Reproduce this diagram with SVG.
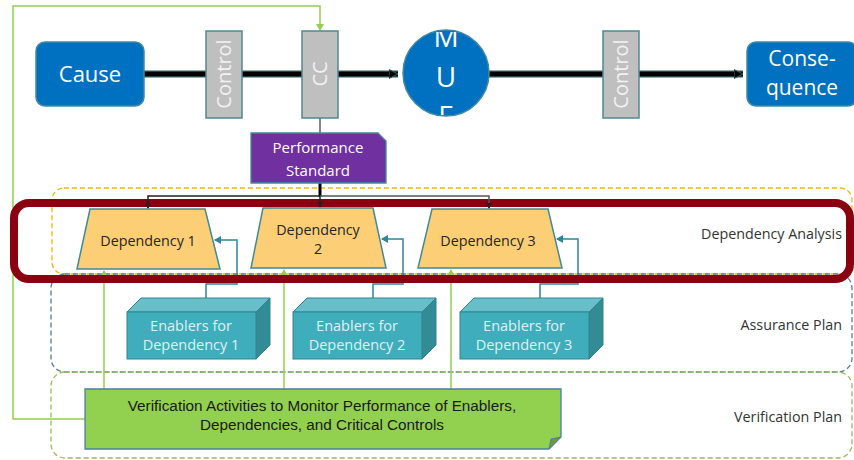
<svg xmlns="http://www.w3.org/2000/svg" width="854" height="460" viewBox="0 0 854 460">
<style>
.wt{font-family:"Open Sans","Noto Sans",sans-serif;fill:#fff;text-anchor:middle}
.ctl{font-family:"Open Sans","Noto Sans",sans-serif;fill:#f2f2f2;text-anchor:middle;font-size:20px}
.dep{font-family:"Open Sans","Noto Sans",sans-serif;fill:#262626;text-anchor:middle;font-size:14.3px}
.en{font-family:"Open Sans","Noto Sans",sans-serif;fill:#dff1f3;text-anchor:middle;font-size:14.5px}
.lbl{font-family:"Open Sans","Noto Sans",sans-serif;fill:#333;text-anchor:end;font-size:14.3px}
.ver{font-family:"Liberation Sans",sans-serif;fill:#1a1a1a;text-anchor:middle;font-size:15.3px}
.gray{fill:#bfbfbf;stroke:#4f8a90;stroke-width:1.5}
.blue{fill:#0070c0;stroke:#3f8aa0;stroke-width:1.5}
.trap{fill:#fccf77;stroke:#3f8a96;stroke-width:1.5}
.ef{fill:#3fadbb;stroke:#2e8590;stroke-width:1}
.et{fill:#68bfca;stroke:#2e8590;stroke-width:1}
.er{fill:#338b95;stroke:#2e8590;stroke-width:1}
.en-c{fill:none;stroke:#31849b;stroke-width:1.5}
.gr-c{fill:none;stroke:#92d050;stroke-width:1.5}
.br{fill:none;stroke:#222;stroke-width:1.5}
</style>
<defs>
<marker id="ab" markerWidth="8" markerHeight="8" refX="6" refY="4" orient="auto" markerUnits="userSpaceOnUse"><path d="M0,0 L7,4 L0,8 Z" fill="#31849b"/></marker>
<marker id="ag" markerWidth="8" markerHeight="8" refX="6" refY="4" orient="auto" markerUnits="userSpaceOnUse"><path d="M0,0 L7,4 L0,8 Z" fill="#92d050"/></marker>
<marker id="ak" markerWidth="6" markerHeight="6" refX="5" refY="3" orient="auto" markerUnits="userSpaceOnUse"><path d="M0,0 L6,3 L0,6 Z" fill="#222"/></marker>
<marker id="am" markerWidth="12" markerHeight="12" refX="9" refY="6" orient="auto" markerUnits="userSpaceOnUse"><path d="M0,1.5 L9,6 L0,10.5 Z" fill="#000" stroke="#2f5f60" stroke-width="1"/></marker>
<clipPath id="mueclip"><rect x="400" y="32" width="92" height="83"/></clipPath>
</defs>

<!-- region frames -->
<g id="regions" fill="none" stroke-width="1.3" stroke-dasharray="5,3">
<rect x="52" y="188" width="800" height="86" rx="12" stroke="#f5b800"/>
<rect x="51" y="274" width="801" height="98" rx="14" stroke="#4e7fa0"/>
<rect x="51" y="372" width="801" height="86" rx="14" stroke="#9bbb59"/>
</g>

<!-- connectors -->
<g id="connectors">
<g>
<line x1="144" y1="74" x2="206" y2="74" stroke="#2f5f60" stroke-width="7"/>
<line x1="144" y1="74" x2="206" y2="74" stroke="#000" stroke-width="4.5"/>
<line x1="242" y1="74" x2="302" y2="74" stroke="#2f5f60" stroke-width="7"/>
<line x1="242" y1="74" x2="302" y2="74" stroke="#000" stroke-width="4.5"/>
<line x1="338" y1="74" x2="398" y2="74" stroke="#2f5f60" stroke-width="7"/>
<line x1="338" y1="74" x2="398" y2="74" stroke="#000" stroke-width="4.5" marker-end="url(#am)"/>
<line x1="489" y1="74" x2="603" y2="74" stroke="#2f5f60" stroke-width="7"/>
<line x1="489" y1="74" x2="603" y2="74" stroke="#000" stroke-width="4.5"/>
<line x1="639" y1="74" x2="743" y2="74" stroke="#2f5f60" stroke-width="7"/>
<line x1="639" y1="74" x2="743" y2="74" stroke="#000" stroke-width="4.5" marker-end="url(#am)"/>
</g>
<polyline class="gr-c" points="85,419 13,419 13,6 320,6 320,30" marker-end="url(#ag)"/>
<line x1="320" y1="118" x2="320" y2="133" stroke="#333" stroke-width="1.2"/>
<polyline class="en-c" points="206,298 206,284 237,284 237,240 215,240" marker-end="url(#ab)"/>
<polyline class="en-c" points="373,298 373,284 403,284 403,239 382,239" marker-end="url(#ab)"/>
<polyline class="en-c" points="540,298 540,284 578,284 578,239 557,239" marker-end="url(#ab)"/>
<line class="gr-c" x1="104" y1="389" x2="104" y2="271" marker-end="url(#ag)"/>
<line class="gr-c" x1="284" y1="389" x2="284" y2="270" marker-end="url(#ag)"/>
<line class="gr-c" x1="451" y1="389" x2="451" y2="270" marker-end="url(#ag)"/>
</g>

<rect id="highlight" x="14" y="203" width="836" height="76" rx="15" fill="none" stroke="#8b0010" stroke-width="8"/>

<g id="branch">
<line x1="320" y1="183" x2="320" y2="197" stroke="#000" stroke-width="3"/>
<polyline class="br" points="320,196 148,196 148,208" marker-end="url(#ak)"/>
<line class="br" x1="320" y1="196" x2="320" y2="207" marker-end="url(#ak)"/>
<polyline points="320,196 489,196 489,208" fill="none" stroke="#555" stroke-width="1.5" marker-end="url(#ak)"/>
</g>

<g id="cause"><rect class="blue" x="36" y="42" width="108" height="64" rx="9"/><text class="wt" x="90" y="82" font-size="22">Cause</text></g>

<g id="control1"><rect class="gray" x="206" y="31" width="36" height="87"/><text class="ctl" transform="translate(231,74) rotate(-90)" x="0" y="0">Control</text></g>

<g id="cc"><rect class="gray" x="302" y="31" width="36" height="87"/><text class="ctl" transform="translate(327,74) rotate(-90)" x="0" y="0">CC</text></g>

<g id="mue"><circle cx="446" cy="73" r="43" fill="#0070c0" stroke="#3f8aa0" stroke-width="1.5"/>
<g clip-path="url(#mueclip)"><text class="wt" font-size="28" x="446" y="47">M</text><text class="wt" font-size="28" x="446" y="87">U</text><text class="wt" font-size="28" x="446" y="126">E</text></g></g>

<g id="control2"><rect class="gray" x="603" y="31" width="36" height="87"/><text class="ctl" transform="translate(628,74) rotate(-90)" x="0" y="0">Control</text></g>

<g id="consequence"><rect class="blue" x="747" y="42" width="110" height="64" rx="9"/><text class="wt" x="802" y="66" font-size="21">Conse-</text><text class="wt" x="802" y="95" font-size="21">quence</text></g>

<g id="performance-standard"><polygon points="251,133 378,133 386,141 386,183 251,183" fill="#7030a0" stroke="#3f8a96" stroke-width="1.3"/><text class="wt" x="318" y="153" font-size="15">Performance</text><text class="wt" x="318" y="176" font-size="15">Standard</text></g>

<g id="dependency1"><polygon class="trap" points="90,209 205,209 220,269 77,269"/><text class="dep" x="148" y="246">Dependency 1</text></g>
<g id="dependency2"><polygon class="trap" points="263,208 373,208 386,268 251,268"/><text class="dep" x="318" y="235">Dependency</text><text class="dep" x="318" y="254">2</text></g>
<g id="dependency3"><polygon class="trap" points="432,209 548,209 562,268 418,268"/><text class="dep" x="488" y="246">Dependency 3</text></g>

<g id="enablers1"><polygon class="et" points="127,312 141,298 270,298 256,312"/><polygon class="er" points="256,312 270,298 270,345 256,359"/><rect class="ef" x="127" y="312" width="129" height="47"/><text class="en" x="191" y="331">Enablers for</text><text class="en" x="191" y="350">Dependency 1</text></g>
<g id="enablers2"><polygon class="et" points="293,312 307,298 436,298 422,312"/><polygon class="er" points="422,312 436,298 436,345 422,359"/><rect class="ef" x="293" y="312" width="129" height="47"/><text class="en" x="357" y="331">Enablers for</text><text class="en" x="357" y="350">Dependency 2</text></g>
<g id="enablers3"><polygon class="et" points="460,312 474,298 603,298 589,312"/><polygon class="er" points="589,312 603,298 603,345 589,359"/><rect class="ef" x="460" y="312" width="129" height="47"/><text class="en" x="524" y="331">Enablers for</text><text class="en" x="524" y="350">Dependency 3</text></g>

<g id="verification"><polygon points="85,389 561,389 561,437 549,449 85,449" fill="#92d050" stroke="#4e7fa0" stroke-width="1.3"/><polygon points="549,449 551,439 561,437" fill="#6c9a3a" stroke="#4e7fa0" stroke-width="1"/>
<text class="ver" x="322" y="411">Verification Activities to Monitor Performance of Enablers,</text><text class="ver" x="322" y="430">Dependencies, and Critical Controls</text></g>

<g id="labels">
<text class="lbl" x="842" y="239">Dependency Analysis</text>
<text class="lbl" x="842" y="330">Assurance Plan</text>
<text class="lbl" x="842" y="422">Verification Plan</text>
</g>
</svg>
